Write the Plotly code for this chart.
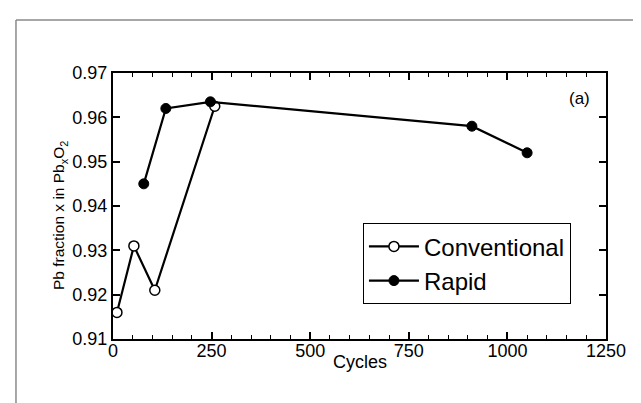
import plotly.graph_objects as go

# Data
conv_cycles = [10, 53, 106, 258]
conv_frac = [0.916, 0.931, 0.921, 0.9625]
rapid_cycles = [78, 134, 247, 910, 1050]
rapid_frac = [0.945, 0.962, 0.9635, 0.958, 0.952]

x_ticks = [0, 250, 500, 750, 1000, 1250]
y_ticks = [0.91, 0.92, 0.93, 0.94, 0.95, 0.96, 0.97]

FONT = "Liberation Sans, Arial, Helvetica, sans-serif"

fig = go.Figure()
fig.add_trace(go.Scatter(
    x=conv_cycles, y=conv_frac, mode="lines+markers", name="Conventional",
    line=dict(color="black", width=2.2),
    marker=dict(symbol="circle", size=10, color="white", line=dict(color="black", width=1.5)),
))
fig.add_trace(go.Scatter(
    x=rapid_cycles, y=rapid_frac, mode="lines+markers", name="Rapid",
    line=dict(color="black", width=2.2),
    marker=dict(symbol="circle", size=10, color="black", line=dict(color="black", width=1)),
))

fig.update_layout(
    width=641, height=403,
    margin=dict(l=105, r=43, t=65, b=72),
    paper_bgcolor="white", plot_bgcolor="white",
    font=dict(family=FONT, color="black", size=18),
    showlegend=True,
    legend=dict(
        x=0.507, y=0.435, xanchor="left", yanchor="top",
        bgcolor="white", bordercolor="black", borderwidth=1,
        font=dict(size=24, family=FONT, color="black"),
        itemwidth=50, tracegroupgap=0,
    ),
    xaxis=dict(
        range=[0, 1250], tickvals=x_ticks, ticktext=[str(v) for v in x_ticks],
        ticks="inside", ticklen=7, tickwidth=1.5, tickcolor="black",
        minor=dict(dtick=50, tick0=0, ticks="inside", ticklen=4, tickwidth=1.2, tickcolor="black"),
        showline=True, linewidth=2, linecolor="black", mirror="ticks",
        showgrid=False, zeroline=False, ticklabelstandoff=-6,
        tickfont=dict(size=18, family=FONT, color="black"),
    ),
    yaxis=dict(
        range=[0.91, 0.97], tickvals=y_ticks, ticktext=["%.2f" % v for v in y_ticks],
        ticks="inside", ticklen=7, tickwidth=1.5, tickcolor="black",
        showline=True, linewidth=2, linecolor="black", mirror="ticks",
        showgrid=False, zeroline=False,
        tickfont=dict(size=18, family=FONT, color="black"),
    ),
    annotations=[
        dict(text="Cycles", x=0.5, y=-0.085, xref="paper", yref="paper",
             xanchor="center", yanchor="middle", showarrow=False,
             font=dict(size=18, family=FONT, color="black")),
        dict(text="Pb fraction x in Pb<sub>x</sub>O<sub>2</sub>", x=-0.108, y=0.465,
             xref="paper", yref="paper", textangle=-90,
             xanchor="center", yanchor="middle", showarrow=False,
             font=dict(size=15.5, family=FONT, color="black")),
        dict(text="(a)", x=0.947, y=0.906, xref="paper", yref="paper",
             xanchor="center", yanchor="middle", showarrow=False,
             font=dict(size=17, family=FONT, color="black")),
    ],
    shapes=[
        dict(type="line", xref="paper", yref="paper", x0=-0.1968, x1=1.2, y0=1.1992, y1=1.1992,
             line=dict(color="#8a8a8a", width=1.5)),
        dict(type="line", xref="paper", yref="paper", x0=-0.1968, x1=-0.1968, y0=1.1992, y1=-0.4,
             line=dict(color="#8a8a8a", width=1.5)),
    ],
)

fig.write_html("out.html")
